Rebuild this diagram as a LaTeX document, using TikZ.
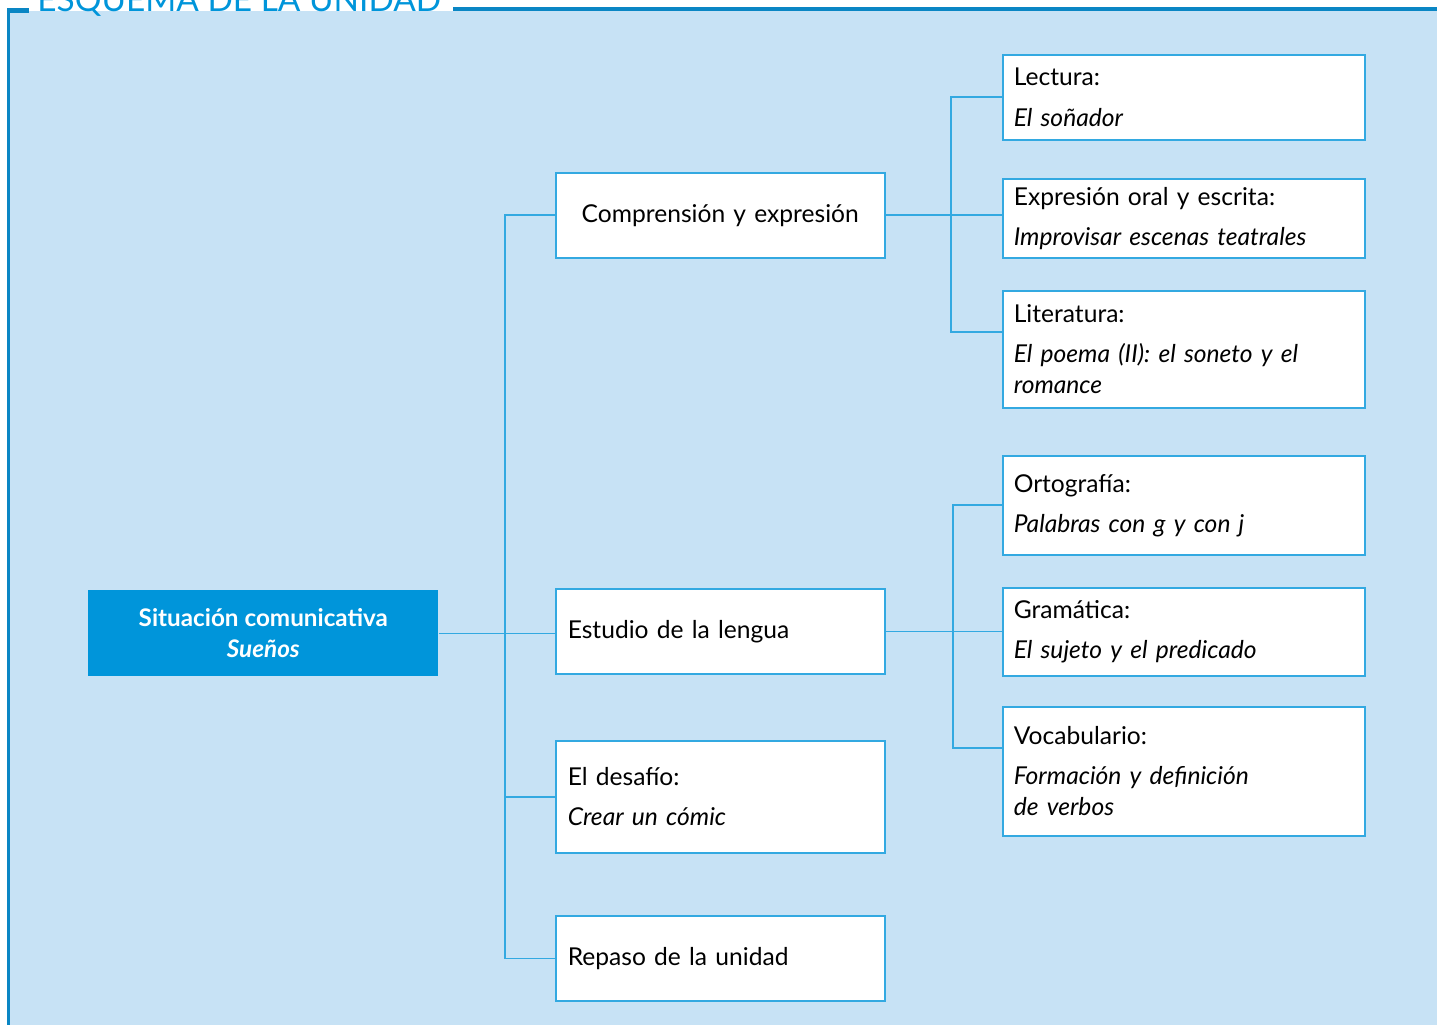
\documentclass[tikz,border=0pt]{standalone}
\usepackage{fontspec}
\setmainfont{Lato}
\usetikzlibrary{positioning,calc}
\definecolor{fondo}{HTML}{C7E2F5}
\definecolor{azul}{HTML}{0095DA}
\definecolor{linea}{HTML}{33A9E1}
\definecolor{marco}{HTML}{0A86C4}

\begin{document}
\begin{tikzpicture}
[x=0.02cm,y=-0.02cm,%
  link/.style={draw=linea,line width=0.9pt},%
  mainbox/.style={rectangle,fill=azul,text=white,anchor=north west,align=center,%
    minimum width=7cm,minimum height=1.72cm,inner sep=0pt,font=\fontsize{13.8pt}{17.6pt}\selectfont\bfseries},%
  midbox/.style={rectangle,draw=linea,line width=0.9pt,fill=white,anchor=north west,%
    minimum width=6.58cm,minimum height=1.7cm,inner xsep=0.24cm,inner ysep=0pt,%
    text width=6.1cm,align=left,font=\fontsize{14pt}{17.6pt}\selectfont},%
  sidebox/.style={rectangle,draw=linea,line width=0.9pt,fill=white,anchor=north west,%
    inner xsep=0.22cm,inner ysep=0pt,text width=6.8cm,align=left,%
    font=\fontsize{14pt}{17.6pt}\selectfont}]
\useasboundingbox (0,0) rectangle (1437,1025);
% marco
\fill[fondo] (8,11) rectangle (1437,1025);
\draw[marco,line width=2.2pt] (8.5,10) -- (8.5,1025);
\draw[marco,line width=2.5pt] (7,10.5) -- (29,10.5);
\draw[marco,line width=2.6pt] (453,9) -- (1437,9);
\node[anchor=base west,inner sep=0pt,text=azul,font=\fontsize{19pt}{21pt}\selectfont] (titulo) at (37,11) {ESQUEMA DE LA UNIDAD};

\node[mainbox] (situacion) at (88,590) {Situación comunicativa\\\textit{Sueños}};

\node[midbox,align=center] (comprension) at (555,172) {Comprensión y expresión};
\node[midbox] (estudio) at (555,588) {Estudio de la lengua};
\node[midbox,minimum height=2.24cm] (desafio) at (555,740) {El desafío:\\[5.2pt]\textit{Crear un cómic}};
\node[midbox] (repaso) at (555,915) {Repaso de la unidad};

\node[sidebox,minimum height=1.7cm] (lectura) at (1002,54) {Lectura:\\[5.2pt]\textit{El soñador}};
\node[sidebox,minimum height=1.58cm] (expresion) at (1002,178) {Expresión oral y escrita:\\[5.2pt]\textit{Improvisar escenas teatrales}};
\node[sidebox,minimum height=2.34cm] (literatura) at (1002,290) {Literatura:\\[5.2pt]\textit{El poema (II): el soneto y el}\\\textit{romance}};
\node[sidebox,minimum height=1.98cm] (ortografia) at (1002,455) {Ortografía:\\[5.2pt]\textit{Palabras con g y con j}};
\node[sidebox,minimum height=1.76cm] (gramatica) at (1002,587) {Gramática:\\[5.2pt]\textit{El sujeto y el predicado}};
\node[sidebox,minimum height=2.58cm] (vocabulario) at (1002,706) {Vocabulario:\\[5.2pt]\textit{Formación y definición}\\\textit{de verbos}};

% ramas
\draw[link] (situacion.east) -- (situacion.east -| estudio.west);
\draw[link] (comprension.west) -- ++(-50,0) |- (repaso.west);
\draw[link] (desafio.west) -- ++(-50,0);
\draw[link] (comprension.east) -- (comprension.east -| expresion.west);
\draw[link] (lectura.west) -- ++(-51,0) |- ($(literatura.north west)+(0,42)$);
\draw[link] (estudio.east) -- (estudio.east -| gramatica.west);
\draw[link] (ortografia.west) -- ++(-49,0) |- ($(vocabulario.north west)+(0,42)$);
\end{tikzpicture}
\end{document}
